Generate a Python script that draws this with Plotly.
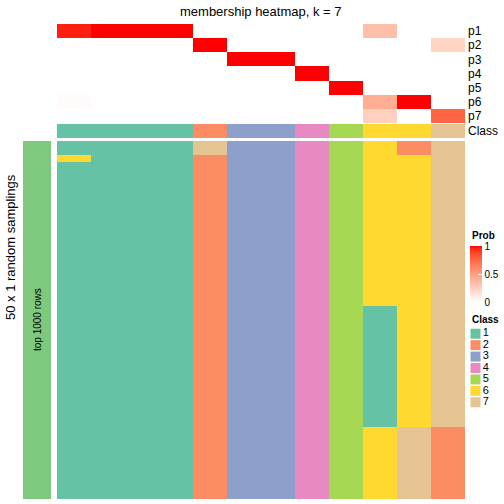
import plotly.graph_objects as go

# ---------------- data ----------------
prob_rows = ["p1", "p2", "p3", "p4", "p5", "p6", "p7"]
n_cols = 12
p1 = [0.96, 1, 1, 1, 0, 0, 0, 0, 0, 0.33, 0, 0]
p2 = [0, 0, 0, 0, 1, 0, 0, 0, 0, 0, 0, 0.22]
p3 = [0, 0, 0, 0, 0, 1, 1, 0, 0, 0, 0, 0]
p4 = [0, 0, 0, 0, 0, 0, 0, 1, 0, 0, 0, 0]
p5 = [0, 0, 0, 0, 0, 0, 0, 0, 1, 0, 0, 0]
p6 = [0.02, 0, 0, 0, 0, 0, 0, 0, 0, 0.42, 1, 0]
p7 = [0, 0, 0, 0, 0, 0, 0, 0, 0, 0.25, 0, 0.76]
class_row = [1, 1, 1, 1, 2, 3, 3, 4, 5, 6, 6, 7]

# 50 random samplings x 12 columns (class per column)
col0 = [1, 1, 6] + [1] * 47
col1 = [1] * 50
col2 = [1] * 50
col3 = [1] * 50
col4 = [7, 7] + [2] * 48
col5 = [3] * 50
col6 = [3] * 50
col7 = [4] * 50
col8 = [5] * 50
col9 = [6] * 23 + [1] * 17 + [6] * 10
col10 = [2, 2] + [6] * 38 + [7] * 10
col11 = [7] * 40 + [2] * 10
sampling_cols = [col0, col1, col2, col3, col4, col5, col6, col7, col8, col9, col10, col11]
row_group = ["top 1000 rows"] * 50

class_labels = ["1", "2", "3", "4", "5", "6", "7"]
class_colors = ["#66C2A5", "#FC8D62", "#8DA0CB", "#E78AC3", "#A6D854", "#FFD92F", "#E5C494"]
group_color = "#7FC97F"

# ---------------- helpers ----------------
W = H = 504
FONT = "Liberation Sans"


def py(px):
    return 1 - px / H


def pxx(px):
    return px / W


def lab_to_hex(L, a, b):
    fy = (L + 16) / 116
    fx = fy + a / 500
    fz = fy - b / 200

    def finv(t):
        return t ** 3 if t ** 3 > 0.008856 else (t - 16 / 116) / 7.787

    X, Y, Z = 0.95047 * finv(fx), finv(fy), 1.08883 * finv(fz)
    r = 3.2404542 * X - 1.5371385 * Y - 0.4985314 * Z
    g = -0.9692660 * X + 1.8760108 * Y + 0.0415560 * Z
    bb = 0.0556434 * X - 0.2040259 * Y + 1.0572252 * Z

    def gam(c):
        c = 12.92 * c if c <= 0.0031308 else 1.055 * c ** (1 / 2.4) - 0.055
        return int(round(max(0, min(1, c)) * 255))

    return "#%02X%02X%02X" % (gam(r), gam(g), gam(bb))


white_lab = (100.0, 0.0, 0.0)
red_lab = (53.2408, 80.0925, 67.2032)
prob_scale = []
for i in range(21):
    t = i / 20
    lab = [w + (r - w) * t for w, r in zip(white_lab, red_lab)]
    prob_scale.append([t, lab_to_hex(*lab)])

class_scale = []
for i, c in enumerate(class_colors):
    class_scale.append([i / 7, c])
    class_scale.append([(i + 1) / 7, c])

cols_x = list(range(n_cols))
prob_z = [p1, p2, p3, p4, p5, p6, p7]
samp_z = [[sampling_cols[c][r] for c in range(n_cols)] for r in range(50)]

fig = go.Figure()

# probability heatmap
fig.add_trace(go.Heatmap(
    z=prob_z, x=cols_x, y=list(range(7)), colorscale=prob_scale, zmin=0, zmax=1,
    xaxis="x", yaxis="y", hoverinfo="skip",
    colorbar=dict(
        x=pxx(470), xanchor="left", y=py(246), yanchor="top",
        len=56, lenmode="pixels", thickness=12, thicknessmode="pixels",
        outlinewidth=0, tickvals=[0, 0.5, 1], ticktext=["0", "0.5", "1"],
        ticks="inside", tickcolor="white", ticklen=4, tickwidth=1,
        tickfont=dict(size=10, family=FONT, color="black"),
        xpad=0, ypad=0, title=dict(text=""),
    ),
))

# class row
fig.add_trace(go.Heatmap(
    z=[class_row], x=cols_x, y=[0], colorscale=class_scale, zmin=0.5, zmax=7.5,
    showscale=False, xaxis="x", yaxis="y2", hoverinfo="skip",
))

# sampling heatmap
fig.add_trace(go.Heatmap(
    z=samp_z, x=cols_x, y=list(range(50)), colorscale=class_scale, zmin=0.5, zmax=7.5,
    showscale=False, xaxis="x", yaxis="y3", hoverinfo="skip",
))

# left row-group bar
fig.add_trace(go.Heatmap(
    z=[[1] for _ in row_group], x=[0], y=list(range(50)),
    colorscale=[[0, group_color], [1, group_color]], showscale=False,
    xaxis="x2", yaxis="y3", hoverinfo="skip",
))

# class legend
fig.add_trace(go.Scatter(
    x=[0] * 7, y=list(range(7)), mode="markers+text",
    marker=dict(symbol="square", size=10, color=class_colors, line=dict(width=0)),
    text=class_labels, textposition="middle right",
    textfont=dict(size=11, family=FONT, color="black"),
    xaxis="x3", yaxis="y4", hoverinfo="skip", showlegend=False, cliponaxis=False,
))

hidden = dict(visible=False, fixedrange=True)
fig.update_layout(
    width=W, height=H, margin=dict(l=0, r=0, t=0, b=0),
    paper_bgcolor="white", plot_bgcolor="rgba(0,0,0,0)", showlegend=False,
    font=dict(family=FONT, color="black"),
    xaxis=dict(domain=[pxx(57), pxx(465)], range=[-0.5, 11.5], anchor="y3", **hidden),
    yaxis=dict(domain=[py(123), py(24)], range=[6.5, -0.5], anchor="x", side="right",
               showticklabels=True, tickvals=list(range(7)), ticktext=prob_rows,
               ticks="", showgrid=False, zeroline=False, showline=False,
               ticklabelstandoff=2,
               tickfont=dict(size=12, family=FONT, color="black"), fixedrange=True),
    yaxis2=dict(domain=[py(138), py(124)], range=[0.5, -0.5], anchor="x", side="right",
                showticklabels=True, tickvals=[0], ticktext=["Class"],
                ticks="", showgrid=False, zeroline=False, showline=False,
                ticklabelstandoff=2,
                tickfont=dict(size=12, family=FONT, color="black"), fixedrange=True),
    yaxis3=dict(domain=[py(499), py(141)], range=[49.5, -0.5], anchor="x", **hidden),
    xaxis2=dict(domain=[pxx(23), pxx(51)], range=[-0.5, 0.5], anchor="y3", **hidden),
    xaxis3=dict(domain=[pxx(470), pxx(481)], range=[-0.5, 0.5], anchor="y4", **hidden),
    yaxis4=dict(domain=[py(408), py(328)], range=[6.5, -0.5], anchor="x3", **hidden),
    annotations=[
        dict(text="membership heatmap, k = 7", x=pxx(261), y=py(11), xref="paper", yref="paper",
             xanchor="center", yanchor="middle", showarrow=False,
             font=dict(size=13, family=FONT, color="black")),
        dict(text="50 x 1 random samplings", x=pxx(10), y=py(247), xref="paper", yref="paper",
             xanchor="center", yanchor="middle", textangle=-90, showarrow=False,
             font=dict(size=13, family=FONT, color="black")),
        dict(text=row_group[0], x=pxx(37), y=py(320), xref="paper", yref="paper",
             xanchor="center", yanchor="middle", textangle=-90, showarrow=False,
             font=dict(size=10, family=FONT, color="black")),
        dict(text="<b>Prob</b>", x=pxx(470), y=py(235), xref="paper", yref="paper",
             xanchor="left", yanchor="middle", showarrow=False,
             font=dict(size=10, family=FONT, color="black")),
        dict(text="<b>Class</b>", x=pxx(470), y=py(319), xref="paper", yref="paper",
             xanchor="left", yanchor="middle", showarrow=False,
             font=dict(size=10, family=FONT, color="black")),
    ],
)

fig.write_html("out.html", config={"displayModeBar": False},
               post_script="document.body.style.margin='0px';")
